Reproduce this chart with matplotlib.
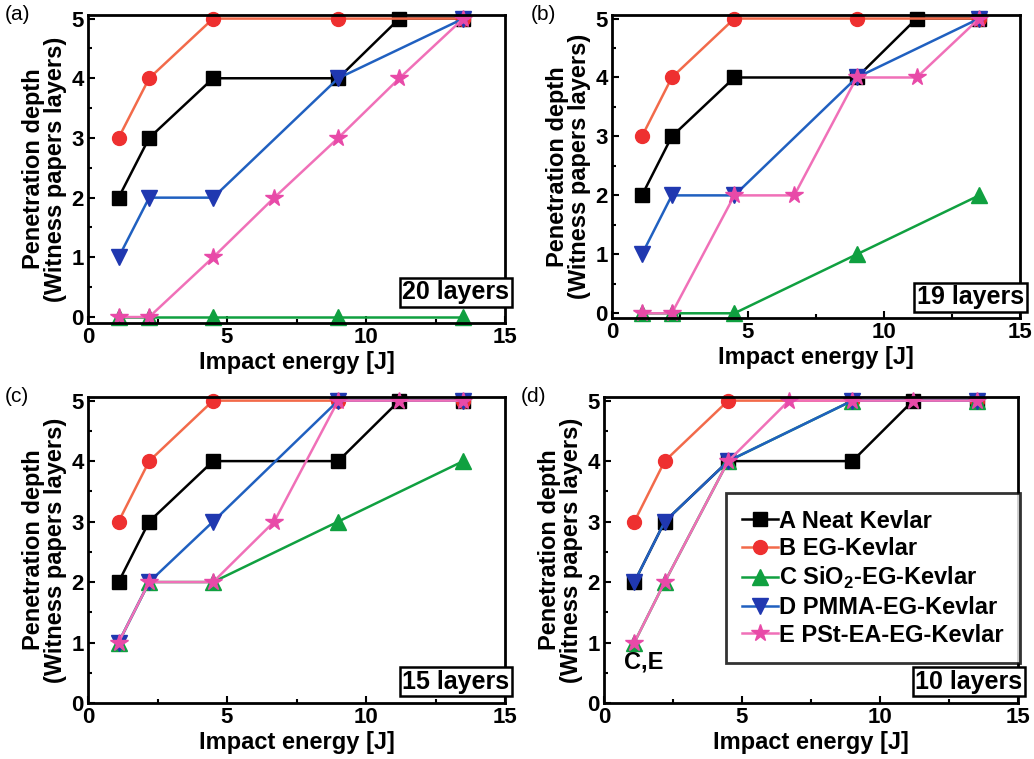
import matplotlib
matplotlib.use('Agg')
import matplotlib.pyplot as plt
from matplotlib.ticker import MultipleLocator

plt.rcParams['font.family'] = ['Liberation Sans', 'DejaVu Sans']
plt.rcParams['mathtext.fontset'] = 'custom'
plt.rcParams['mathtext.bf'] = 'Liberation Sans:bold'
plt.rcParams['mathtext.rm'] = 'Liberation Sans:bold'

# impact energies (J) where each sample was tested
x_A = [1.1, 2.2, 4.5, 9.0, 11.2, 13.5]
x_B = [1.1, 2.2, 4.5, 9.0, 13.5]
x_C = [1.1, 2.2, 4.5, 9.0, 13.5]
x_D = [1.1, 2.2, 4.5, 9.0, 13.5]
x_E = [1.1, 2.2, 4.5, 6.7, 9.0, 11.2, 13.5]

panel_tags = ['(a)', '(b)', '(c)', '(d)']
layer_labels = ['20 layers', '19 layers', '15 layers', '10 layers']

# penetration depth, one list per panel
y_A = [[2, 3, 4, 4, 5, 5], [2, 3, 4, 4, 5, 5], [2, 3, 4, 4, 5, 5], [2, 3, 4, 4, 5, 5]]
y_B = [[3, 4, 5, 5, 5], [3, 4, 5, 5, 5], [3, 4, 5, 5, 5], [3, 4, 5, 5, 5]]
y_C = [[0, 0, 0, 0, 0], [0, 0, 0, 1, 2], [1, 2, 2, 3, 4], [1, 2, 4, 5, 5]]
y_D = [[1, 2, 2, 4, 5], [1, 2, 2, 4, 5], [1, 2, 3, 5, 5], [2, 3, 4, 5, 5]]
y_E = [[0, 0, 1, 2, 3, 4, 5], [0, 0, 2, 2, 4, 4, 5], [1, 2, 2, 3, 5, 5, 5], [1, 2, 4, 5, 5, 5, 5]]

names = ['A Neat Kevlar', 'B EG-Kevlar', r'C SiO$_\mathbf{2}$-EG-Kevlar',
         'D PMMA-EG-Kevlar', 'E PSt-EA-EG-Kevlar']

styles = [
    dict(color='black', marker='s', mfc='black', mec='black', ms=10),
    dict(color='#f26a4a', marker='o', mfc='#ee3030', mec='#ee3030', ms=10),
    dict(color='#10a040', marker='^', mfc='#10a040', mec='#10a040', ms=11),
    dict(color='#2060c0', marker='v', mfc='#2038b0', mec='#2038b0', ms=11),
    dict(color='#f070b8', marker='*', mfc='#e84aa8', mec='#e84aa8', ms=13),
]

fig = plt.figure(figsize=(10.34, 7.59), dpi=100)
W, H = 1034, 759
# axes boxes in pixels: left, top, right, bottom
boxes = [(88, 15, 505, 323), (612, 15, 1020, 318), (88, 397, 505, 703), (604, 397, 1018, 703)]
ylows = [-0.1, -0.08, 0, 0]
box_y = [0.1, 0.068, 0.07, 0.07]

for i in range(4):
    l, t, r, b = boxes[i]
    ax = fig.add_axes([l / W, 1 - b / H, (r - l) / W, (b - t) / H])
    xs = [x_A, x_B, x_C, x_D, x_E]
    ys = [y_A[i], y_B[i], y_C[i], y_D[i], y_E[i]]
    for k in range(5):
        ax.plot(xs[k], ys[k], lw=1.8, label=names[k], clip_on=False, **styles[k])
    ax.set_xlim(0, 15)
    ax.set_ylim(ylows[i], 5.06)
    ax.xaxis.set_major_locator(MultipleLocator(5))
    ax.xaxis.set_minor_locator(MultipleLocator(2.5))
    ax.yaxis.set_major_locator(MultipleLocator(1))
    ax.yaxis.set_minor_locator(MultipleLocator(0.5))
    ax.tick_params(which='both', direction='in', labelsize=16, width=1.5, pad=3)
    ax.tick_params(which='major', length=5)
    ax.tick_params(which='minor', length=3)
    for lab in ax.get_xticklabels() + ax.get_yticklabels():
        lab.set_fontweight('bold')
    for sp in ax.spines.values():
        sp.set_linewidth(2)
    ax.set_xlabel('Impact energy [J]', fontsize=17, fontweight='bold', labelpad=2)
    ax.set_ylabel('Penetration depth\n(Witness papers layers)', fontsize=17,
                  fontweight='bold', linespacing=0.95, labelpad=3)
    ax.text(-0.2, 1.0, panel_tags[i], transform=ax.transAxes, fontsize=15,
            ha='left', va='center')
    ax.text(1.01, box_y[i], layer_labels[i], transform=ax.transAxes, fontsize=18,
            fontweight='bold', ha='right', va='center',
            bbox=dict(boxstyle='square,pad=0.1', fc='white', ec='black', lw=1.8))
    if i == 3:
        ax.text(1.45, 0.68, 'C,E', fontsize=17, fontweight='bold', ha='center', va='center')
        leg = ax.legend(loc='lower right', bbox_to_anchor=(1.005, 0.13),
                        prop=dict(weight='bold', size=17), frameon=True, fancybox=False,
                        handlelength=1.5, handletextpad=0.05, labelspacing=0.2,
                        borderpad=0.7, borderaxespad=0)
        leg.get_frame().set_edgecolor('black')
        leg.get_frame().set_linewidth(2)

fig.savefig('out.png', dpi=100)
